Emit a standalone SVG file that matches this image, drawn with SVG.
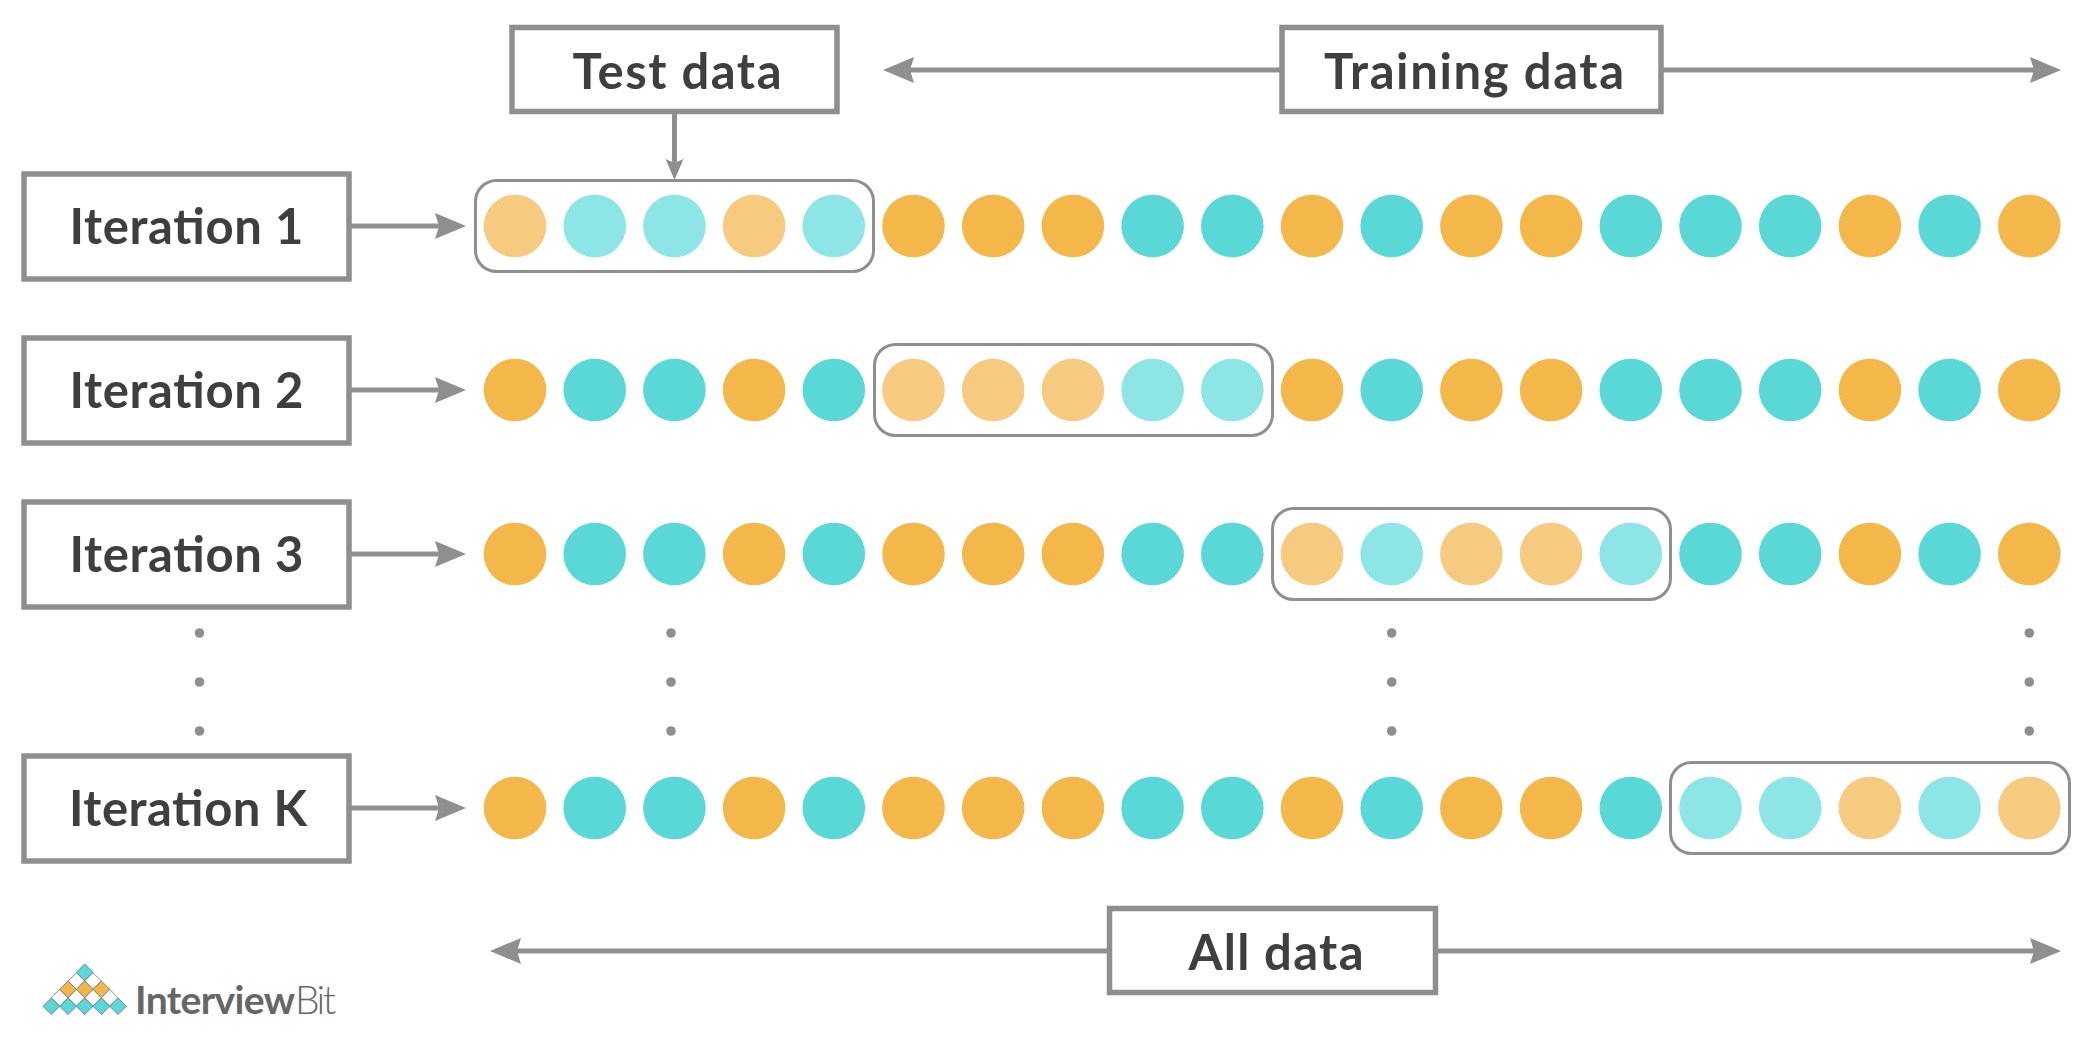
<svg xmlns="http://www.w3.org/2000/svg" xmlns:xlink="http://www.w3.org/1999/xlink" width="2086" height="1056" viewBox="0 0 2086 1056">
<style>
.box{fill:#fff;stroke:#8f8f8f;stroke-width:5.5}
.sel{fill:#fff;stroke:#8f8f8f;stroke-width:3}
.lbl{font-family:"Lato","Liberation Sans",sans-serif;font-weight:700;font-size:49px;fill:#3f3f3f;text-anchor:middle}
.c{fill:none;stroke:#8f8f8f;stroke-width:5}
.o{fill:#f4b84a}.t{fill:#5ad8d8}.lo{fill:#f6cb80}.lt{fill:#8de5e5}
.d{fill:#8f8f8f}
.lg{font-family:"Lato","Liberation Sans",sans-serif;font-size:39px;fill:#666}
.dm{stroke:#5e7a7c;stroke-width:.8}
</style>
<defs>
<marker id="ah" markerUnits="userSpaceOnUse" markerWidth="31" markerHeight="26" viewBox="0 0 31 26" refX="6" refY="13" orient="auto-start-reverse"><path d="M0 0L31 13L0 26L4 13Z" fill="#8f8f8f"/></marker>
<marker id="ad" markerUnits="userSpaceOnUse" markerWidth="21" markerHeight="20" viewBox="0 0 21 20" refX="5" refY="10" orient="auto"><path d="M0 1L21 10L0 19L4 10Z" fill="#8f8f8f"/></marker>
<polygon id="dia" points="0,-8.3 8.3,0 0,8.3 -8.3,0"/>
</defs>
<rect width="2086" height="1056" fill="#fff"/>
<g id="connectors">
<path class="c" d="M674.5 114V164" marker-end="url(#ad)"/>
<path class="c" d="M351 226H441" marker-end="url(#ah)"/>
<path class="c" d="M351 390H441" marker-end="url(#ah)"/>
<path class="c" d="M351 554H441" marker-end="url(#ah)"/>
<path class="c" d="M351 808H441" marker-end="url(#ah)"/>
<path class="c" d="M908 70H1281" marker-start="url(#ah)"/>
<path class="c" d="M1663 70H2036" marker-end="url(#ah)"/>
<path class="c" d="M515 951H1107" marker-start="url(#ah)"/>
<path class="c" d="M1438 951H2036" marker-end="url(#ah)"/>
</g>
<g id="test-data"><rect class="box" x="512" y="27.5" width="325" height="84"/><text class="lbl" x="677" y="89" textLength="209">Test data</text></g>
<g id="training-data"><rect class="box" x="1282" y="27.5" width="379" height="84"/><text class="lbl" x="1474" y="89" textLength="300">Training data</text></g>
<g id="all-data"><rect class="box" x="1109.5" y="908.5" width="326" height="84"/><text class="lbl" x="1276" y="970" textLength="175">All data</text></g>
<g id="iteration-1"><rect class="box" x="24" y="174" width="325" height="105"/><text class="lbl" x="186.5" y="244" textLength="234">Iteration 1</text></g>
<g id="iteration-2"><rect class="box" x="24" y="338" width="325" height="105"/><text class="lbl" x="186.5" y="408" textLength="234">Iteration 2</text></g>
<g id="iteration-3"><rect class="box" x="24" y="502" width="325" height="105"/><text class="lbl" x="186.5" y="572" textLength="234">Iteration 3</text></g>
<g id="iteration-k"><rect class="box" x="24" y="756" width="325" height="105"/><text class="lbl" x="188" y="826" textLength="238">Iteration K</text></g>
<g id="row-1" transform="translate(0,226)">
<rect class="sel" x="475.5" y="-45.5" width="398" height="91" rx="21"/>
<circle class="lo" cx="515" r="31.3"/><circle class="lt" cx="594.7" r="31.3"/><circle class="lt" cx="674.4" r="31.3"/><circle class="lo" cx="754.1" r="31.3"/><circle class="lt" cx="833.8" r="31.3"/><circle class="o" cx="913.5" r="31.3"/><circle class="o" cx="993.2" r="31.3"/><circle class="o" cx="1072.9" r="31.3"/><circle class="t" cx="1152.6" r="31.3"/><circle class="t" cx="1232.3" r="31.3"/><circle class="o" cx="1312" r="31.3"/><circle class="t" cx="1391.7" r="31.3"/><circle class="o" cx="1471.4" r="31.3"/><circle class="o" cx="1551.1" r="31.3"/><circle class="t" cx="1630.8" r="31.3"/><circle class="t" cx="1710.5" r="31.3"/><circle class="t" cx="1790.2" r="31.3"/><circle class="o" cx="1869.9" r="31.3"/><circle class="t" cx="1949.6" r="31.3"/><circle class="o" cx="2029.3" r="31.3"/>
</g>
<g id="row-2" transform="translate(0,390)">
<rect class="sel" x="874.5" y="-45.5" width="398" height="91" rx="21"/>
<circle class="o" cx="515" r="31.3"/><circle class="t" cx="594.7" r="31.3"/><circle class="t" cx="674.4" r="31.3"/><circle class="o" cx="754.1" r="31.3"/><circle class="t" cx="833.8" r="31.3"/><circle class="lo" cx="913.5" r="31.3"/><circle class="lo" cx="993.2" r="31.3"/><circle class="lo" cx="1072.9" r="31.3"/><circle class="lt" cx="1152.6" r="31.3"/><circle class="lt" cx="1232.3" r="31.3"/><circle class="o" cx="1312" r="31.3"/><circle class="t" cx="1391.7" r="31.3"/><circle class="o" cx="1471.4" r="31.3"/><circle class="o" cx="1551.1" r="31.3"/><circle class="t" cx="1630.8" r="31.3"/><circle class="t" cx="1710.5" r="31.3"/><circle class="t" cx="1790.2" r="31.3"/><circle class="o" cx="1869.9" r="31.3"/><circle class="t" cx="1949.6" r="31.3"/><circle class="o" cx="2029.3" r="31.3"/>
</g>
<g id="row-3" transform="translate(0,554)">
<rect class="sel" x="1272.5" y="-45.5" width="398" height="91" rx="21"/>
<circle class="o" cx="515" r="31.3"/><circle class="t" cx="594.7" r="31.3"/><circle class="t" cx="674.4" r="31.3"/><circle class="o" cx="754.1" r="31.3"/><circle class="t" cx="833.8" r="31.3"/><circle class="o" cx="913.5" r="31.3"/><circle class="o" cx="993.2" r="31.3"/><circle class="o" cx="1072.9" r="31.3"/><circle class="t" cx="1152.6" r="31.3"/><circle class="t" cx="1232.3" r="31.3"/><circle class="lo" cx="1312" r="31.3"/><circle class="lt" cx="1391.7" r="31.3"/><circle class="lo" cx="1471.4" r="31.3"/><circle class="lo" cx="1551.1" r="31.3"/><circle class="lt" cx="1630.8" r="31.3"/><circle class="t" cx="1710.5" r="31.3"/><circle class="t" cx="1790.2" r="31.3"/><circle class="o" cx="1869.9" r="31.3"/><circle class="t" cx="1949.6" r="31.3"/><circle class="o" cx="2029.3" r="31.3"/>
</g>
<g id="row-k" transform="translate(0,808)">
<rect class="sel" x="1670.5" y="-45.5" width="399" height="91" rx="21"/>
<circle class="o" cx="515" r="31.3"/><circle class="t" cx="594.7" r="31.3"/><circle class="t" cx="674.4" r="31.3"/><circle class="o" cx="754.1" r="31.3"/><circle class="t" cx="833.8" r="31.3"/><circle class="o" cx="913.5" r="31.3"/><circle class="o" cx="993.2" r="31.3"/><circle class="o" cx="1072.9" r="31.3"/><circle class="t" cx="1152.6" r="31.3"/><circle class="t" cx="1232.3" r="31.3"/><circle class="o" cx="1312" r="31.3"/><circle class="t" cx="1391.7" r="31.3"/><circle class="o" cx="1471.4" r="31.3"/><circle class="o" cx="1551.1" r="31.3"/><circle class="t" cx="1630.8" r="31.3"/><circle class="lt" cx="1710.5" r="31.3"/><circle class="lt" cx="1790.2" r="31.3"/><circle class="lo" cx="1869.9" r="31.3"/><circle class="lt" cx="1949.6" r="31.3"/><circle class="lo" cx="2029.3" r="31.3"/>
</g>
<g id="ellipsis">
<circle class="d" cx="199.5" cy="633" r="4.8"/><circle class="d" cx="199.5" cy="682" r="4.8"/><circle class="d" cx="199.5" cy="731" r="4.8"/>
<circle class="d" cx="671" cy="633" r="4.8"/><circle class="d" cx="671" cy="682" r="4.8"/><circle class="d" cx="671" cy="731" r="4.8"/>
<circle class="d" cx="1391.7" cy="633" r="4.8"/><circle class="d" cx="1391.7" cy="682" r="4.8"/><circle class="d" cx="1391.7" cy="731" r="4.8"/>
<circle class="d" cx="2029.3" cy="633" r="4.8"/><circle class="d" cx="2029.3" cy="682" r="4.8"/><circle class="d" cx="2029.3" cy="731" r="4.8"/>
</g>
<g id="logo">
<g class="dm" fill="#5ad8d8"><use href="#dia" x="84.7" y="972.3"/><use href="#dia" x="51.3" y="1006.3"/><use href="#dia" x="68" y="1006.3"/><use href="#dia" x="84.7" y="1006.3"/><use href="#dia" x="101.4" y="1006.3"/><use href="#dia" x="118" y="1006.3"/></g>
<g class="dm" fill="#fff"><use href="#dia" x="76.4" y="981"/><use href="#dia" x="93" y="981"/><use href="#dia" x="59.7" y="997.7"/><use href="#dia" x="76.4" y="997.7"/><use href="#dia" x="93" y="997.7"/><use href="#dia" x="109.7" y="997.7"/></g>
<g class="dm" fill="#f4b84a"><use href="#dia" x="68" y="989.3"/><use href="#dia" x="84.7" y="989.3"/><use href="#dia" x="101.4" y="989.3"/></g>
<text class="lg" x="135" y="1014" font-weight="700" textLength="160">Interview</text><text class="lg" x="295" y="1014" font-weight="300" textLength="41">Bit</text>
</g>
</svg>
